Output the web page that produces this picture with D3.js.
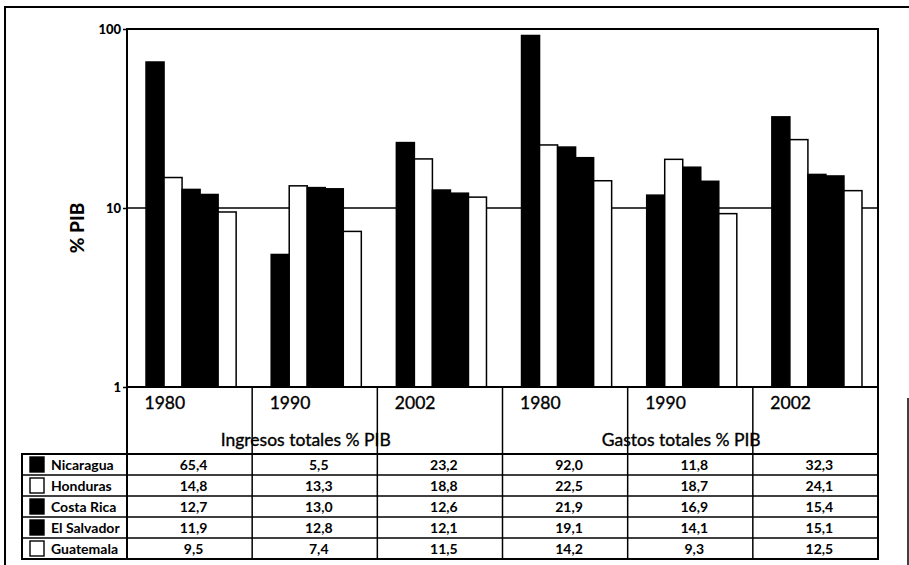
<!DOCTYPE html>
<html>
<head>
<meta charset="utf-8">
<script src="https://cdn.jsdelivr.net/npm/d3@7"></script>
<style>
  html, body { margin: 0; padding: 0; background: #fff; }
  svg { display: block; font-family: Lato, "Open Sans", sans-serif; }
</style>
</head>
<body>
<svg id="chart" width="909" height="565"></svg>
<script>
// Fiscal indicators (% of GDP) for Central American countries
const groups = ["Ingresos-1980", "Ingresos-1990", "Ingresos-2002", "Gastos-1980", "Gastos-1990", "Gastos-2002"];
const yearLabels = ["1980", "1990", "2002", "1980", "1990", "2002"];
const sectionLabels = ["Ingresos totales % PIB", "Gastos totales % PIB"];
const countries = ["Nicaragua", "Honduras", "Costa Rica", "El Salvador", "Guatemala"];
const countryFill = ["#000", "#fff", "#000", "#000", "#fff"];

const nicaragua  = [65.4, 5.5, 23.2, 92.0, 11.8, 32.3];
const honduras   = [14.8, 13.3, 18.8, 22.5, 18.7, 24.1];
const costaRica  = [12.7, 13.0, 12.6, 21.9, 16.9, 15.4];
const elSalvador = [11.9, 12.8, 12.1, 19.1, 14.1, 15.1];
const guatemala  = [9.5, 7.4, 11.5, 14.2, 9.3, 12.5];
const series = [nicaragua, honduras, costaRica, elSalvador, guatemala];

const yTicks = [1, 10, 100];

const svg = d3.select("#chart");

const plot = { left: 127, right: 878, top: 29, bottom: 387 };
const table = { left: 22, top: 454, rowH: 21 };

const x = d3.scaleBand().domain(groups).range([plot.left, plot.right]).padding(0);
const bw = x.bandwidth();
const xs = d3.scaleBand().domain(countries).range([bw * 0.152, bw * 0.872]).padding(0);
const y = d3.scaleLog().domain([1, 100]).range([plot.bottom, plot.top]);

const fmt = v => d3.format(".1f")(v).replace(".", ",");

// outer frame
const frame = svg.append("g").attr("stroke", "#000").attr("fill", "none");
frame.append("line").attr("x1", 5).attr("x2", 909).attr("y1", 7).attr("y2", 7).attr("stroke-width", 2.2);
frame.append("line").attr("x1", 5).attr("x2", 5).attr("y1", 6).attr("y2", 565).attr("stroke-width", 2);
frame.append("line").attr("x1", 908).attr("x2", 908).attr("y1", 398).attr("y2", 565).attr("stroke-width", 1.5);

// gridline at 10
svg.append("line")
  .attr("x1", plot.left).attr("x2", plot.right)
  .attr("y1", y(10)).attr("y2", y(10))
  .attr("stroke", "#000").attr("stroke-width", 1.6);

// bars
const barData = [];
groups.forEach((g, gi) => {
  countries.forEach((c, ci) => {
    barData.push({ g, c, ci, v: series[ci][gi] });
  });
});
svg.append("g").selectAll("rect").data(barData).join("rect")
  .attr("x", d => x(d.g) + xs(d.c))
  .attr("width", xs.bandwidth())
  .attr("y", d => y(d.v))
  .attr("height", d => y(1) - y(d.v))
  .attr("fill", d => countryFill[d.ci])
  .attr("stroke", "#000")
  .attr("stroke-width", 1.5);

// plot border
svg.append("rect")
  .attr("x", plot.left).attr("y", plot.top)
  .attr("width", plot.right - plot.left).attr("height", plot.bottom - plot.top)
  .attr("fill", "none").attr("stroke", "#000").attr("stroke-width", 2);

// y axis
const yAxis = d3.axisLeft(y).tickValues(yTicks).tickFormat(d3.format("d")).tickSize(4).tickPadding(2);
const yg = svg.append("g").attr("transform", `translate(${plot.left},0)`).call(yAxis);
yg.select(".domain").remove();
yg.selectAll("line").attr("stroke", "#000").attr("stroke-width", 1.5);
yg.selectAll("text").attr("font-size", 13).attr("font-weight", 900).attr("fill", "#000").attr("font-family", "Lato, sans-serif");

svg.append("text")
  .attr("transform", `translate(84,${228}) rotate(-90)`)
  .attr("text-anchor", "middle")
  .attr("font-size", 19).attr("font-weight", 900)
  .text("% PIB");

// category header: vertical dividers through header and table
const tableBottom = table.top + table.rowH * countries.length;
const boundaries = groups.map(g => x(g)).concat([plot.right]);
svg.append("g").selectAll("line").data(boundaries).join("line")
  .attr("x1", d => d).attr("x2", d => d)
  .attr("y1", plot.bottom).attr("y2", tableBottom)
  .attr("stroke", "#000")
  .attr("stroke-width", (d, i) => (i === 0 || i === boundaries.length - 1) ? 2 : 1.5);

// year labels
svg.append("g").selectAll("text").data(groups).join("text")
  .attr("x", d => x(d) + bw * 0.14)
  .attr("y", 409)
  .attr("font-size", 17.5)
  .attr("stroke", "#000").attr("stroke-width", 0.35)
  .text((d, i) => yearLabels[i]);

// section labels
sectionLabels.forEach((s, i) => {
  const x0 = x(groups[i * 3]);
  const x1 = x(groups[i * 3 + 2]) + bw;
  svg.append("text")
    .attr("x", x0 + (x1 - x0) / 2 - 9)
    .attr("y", 446)
    .attr("text-anchor", "middle")
    .attr("font-size", 17.5)
    .attr("stroke", "#000").attr("stroke-width", 0.35)
    .text(s);
});

// data table
const rowY = i => table.top + i * table.rowH;
const tg = svg.append("g");
tg.append("rect")
  .attr("x", table.left).attr("y", table.top)
  .attr("width", plot.right - table.left).attr("height", tableBottom - table.top)
  .attr("fill", "none").attr("stroke", "#000").attr("stroke-width", 2);
tg.selectAll("line.row").data(countries.slice(1)).join("line")
  .attr("class", "row")
  .attr("x1", table.left).attr("x2", plot.right)
  .attr("y1", (d, i) => rowY(i + 1)).attr("y2", (d, i) => rowY(i + 1))
  .attr("stroke", "#000").attr("stroke-width", 1.5);

countries.forEach((c, ci) => {
  const cy = rowY(ci) + table.rowH / 2;
  tg.append("rect")
    .attr("x", 30).attr("y", cy - 7.5)
    .attr("width", 14).attr("height", 15)
    .attr("fill", countryFill[ci]).attr("stroke", "#000").attr("stroke-width", 1.4);
  tg.append("text")
    .attr("x", 51).attr("y", cy + 5)
    .attr("font-size", 14).attr("font-weight", 700)
    .text(c);
  groups.forEach((g, gi) => {
    tg.append("text")
      .attr("x", x(g) + bw / 2 + 4)
      .attr("y", cy + 5)
      .attr("text-anchor", "middle")
      .attr("font-size", 14).attr("font-weight", 700)
      .text(fmt(series[ci][gi]));
  });
});
</script>
</body>
</html>
